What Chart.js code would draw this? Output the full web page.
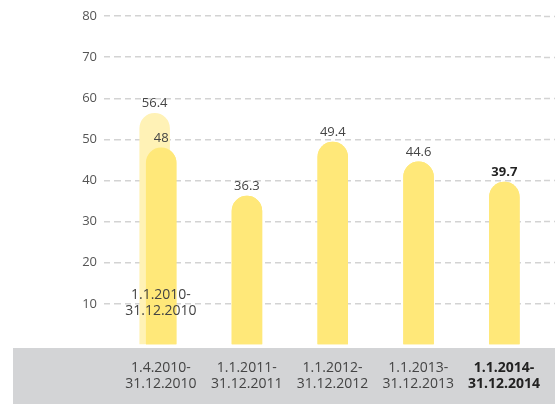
<!DOCTYPE html>
<html><head><meta charset="utf-8">
<script src="https://cdn.jsdelivr.net/npm/chart.js@4.4.1/dist/chart.umd.min.js"></script>
<style>html,body{margin:0;padding:0;background:#fff}#wrap{width:555px;height:404px;position:relative}</style>
</head><body><div id="wrap"><canvas id="c" width="555" height="404"></canvas></div>
<script>
// ---- data ----
const categories = [
  ['1.4.2010-', '31.12.2010'],
  ['1.1.2011-', '31.12.2011'],
  ['1.1.2012-', '31.12.2012'],
  ['1.1.2013-', '31.12.2013'],
  ['1.1.2014-', '31.12.2014']
];
const fullYearValues = [56.4, null, null, null, null];
const fullYearLabel = ['1.1.2010-', '31.12.2010'];
const periodValues = [48, 36.3, 49.4, 44.6, 39.7];
const yTicks = [10, 20, 30, 40, 50, 60, 70, 80];
const highlightIndex = 4;

// ---- styles ----
const FONT = '"Open Sans", "DejaVu Sans", sans-serif';
const MAIN = '#FFE879';
const LIGHT = '#FFF2B6';
const GRID = '#d3d3d3';
const TEXT = '#444444';
const DARK = '#222222';

const bandPlugin = {
  id: 'band',
  beforeDraw(chart) {
    const ctx = chart.ctx;
    const top = chart.chartArea.bottom + 3;
    ctx.save();
    ctx.fillStyle = '#d3d4d6';
    ctx.fillRect(13, top, chart.width - 13, chart.height - top);
    ctx.restore();
  }
};

const labelPlugin = {
  id: 'labels',
  afterDatasetsDraw(chart) {
    const ctx = chart.ctx;
    // keep the period bars above the full-year bar
    chart.getDatasetMeta(1).data.forEach(el => el.draw(ctx));
    ctx.save();
    ctx.textAlign = 'center';
    ctx.textBaseline = 'middle';
    chart.data.datasets.forEach((ds, di) => {
      const meta = chart.getDatasetMeta(di);
      meta.data.forEach((el, i) => {
        const v = ds.data[i];
        if (v === null || v === undefined) return;
        const bold = di === 1 && i === highlightIndex;
        ctx.font = (bold ? 'bold ' : '') + '13px ' + FONT;
        ctx.fillStyle = bold ? DARK : TEXT;
        ctx.fillText(String(v), el.x, el.y - 9.5);
      });
    });
    // label of the full-year bar, inside the bars
    const x = chart.scales.x.getPixelForValue(0) + 3;
    const b = chart.chartArea.bottom;
    ctx.font = '14px ' + FONT;
    ctx.fillStyle = TEXT;
    ctx.fillText(fullYearLabel[0], x, b - 50);
    ctx.fillText(fullYearLabel[1], x, b - 34);
    ctx.restore();
  }
};

const gridColor = c => (c.tick && c.tick.value === 0) ? 'rgba(0,0,0,0)' : GRID;

new Chart(document.getElementById('c'), {
  type: 'bar',
  data: {
    labels: categories,
    datasets: [
      {
        label: fullYearLabel.join(''),
        data: fullYearValues,
        backgroundColor: LIGHT,
        borderRadius: 16,
        borderSkipped: 'start',
        categoryPercentage: 0.1515,
        barPercentage: 4.69
      },
      {
        label: 'period',
        data: periodValues,
        backgroundColor: MAIN,
        borderRadius: 16,
        borderSkipped: 'start',
        categoryPercentage: 0.1515,
        barPercentage: 4.69
      }
    ]
  },
  options: {
    responsive: false,
    animation: false,
    layout: { padding: { top: 16, right: 0, bottom: 0, left: 0 } },
    plugins: { legend: { display: false }, tooltip: { enabled: false } },
    scales: {
      x: {
        type: 'category',
        offset: true,
        grid: { display: false },
        border: { display: false },
        ticks: {
          autoSkip: false,
          maxRotation: 0,
          padding: 7,
          labelOffset: 3,
          color: c => c.index === highlightIndex ? DARK : TEXT,
          font: c => ({ family: FONT, size: 14, lineHeight: 1.15, weight: c.index === highlightIndex ? 'bold' : 'normal' })
        },
        afterFit: s => { s.height = 59; }
      },
      y: {
        position: 'left',
        min: 0, max: 80,
        ticks: {
          stepSize: 10,
          padding: 7,
          color: '#555',
          font: { family: FONT, size: 13 },
          callback: v => yTicks.includes(v) ? String(v) : ''
        },
        grid: { color: gridColor, tickColor: gridColor, lineWidth: 1.5, tickWidth: 1.5, tickLength: 11, tickBorderDash: [6, 4] },
        border: { display: false, dash: [6, 4] },
        afterFit: s => { s.width = 115; }
      },
      y2: {
        position: 'right',
        min: 0, max: 80,
        ticks: { display: false, stepSize: 10 },
        grid: { drawOnChartArea: false, color: gridColor, tickColor: gridColor, tickWidth: 1.5, tickLength: 11, tickBorderDash: [6, 4] },
        border: { display: false },
        afterFit: s => { s.width = 11; }
      }
    }
  },
  plugins: [bandPlugin, labelPlugin]
});
</script>
</body></html>
